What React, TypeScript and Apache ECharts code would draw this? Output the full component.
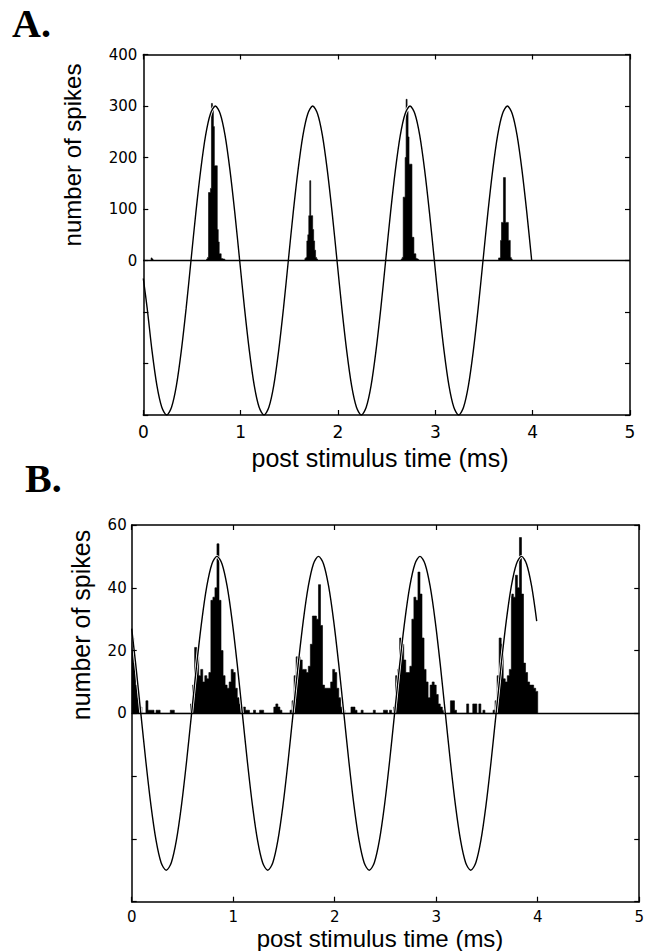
import React, { useEffect, useRef } from "react";
import * as echarts from "echarts";

const W = 647;
const H = 951;

// ---------- Panel A ----------
const aYMin = -300;
const aYMax = 400;
const aYInterval = 100;
const aBinWidth = 0.01;
const aBinCount = 400; // bins from 0 to 4 ms
const aBinStarts = [
  0.08, 0.09,
  0.65, 0.66, 0.67, 0.68, 0.69, 0.7, 0.71, 0.72, 0.73, 0.74, 0.75, 0.76, 0.77, 0.78, 0.79, 0.8, 0.81, 0.82, 0.83,
  1.66, 1.67, 1.68, 1.69, 1.7, 1.71, 1.72, 1.73, 1.74, 1.75, 1.76, 1.77, 1.78,
  2.65, 2.66, 2.67, 2.68, 2.69, 2.7, 2.71, 2.72, 2.73, 2.74, 2.75, 2.76, 2.77, 2.78, 2.79, 2.8, 2.81, 2.82,
  3.65, 3.66, 3.67, 3.68, 3.69, 3.7, 3.71, 3.72, 3.73, 3.74, 3.75, 3.76, 3.77, 3.78,
];
const aCounts = [
  5, 3,
  3, 6, 132, 132, 140, 305, 300, 260, 184, 184, 184, 60, 36, 13, 13, 4, 3, 3, 2,
  4, 6, 38, 50, 87, 155, 87, 87, 60, 38, 20, 6, 3,
  3, 6, 123, 123, 200, 313, 290, 240, 187, 187, 187, 45, 45, 13, 13, 4, 3, 2,
  5, 6, 39, 74, 74, 161, 161, 74, 74, 74, 39, 39, 6, 3,
];

// ---------- Panel B ----------
const bYMin = -60;
const bYMax = 60;
const bYInterval = 20;
const bBinWidth = 0.02;
const bCounts = [
  24, 16, 9, 5, 2, 0, 0, 4, 1, 1,
  1, 0, 1, 1, 0, 0, 0, 0, 0, 1,
  1, 0, 0, 0, 0, 0, 0, 0, 0, 3,
  9, 21, 18, 12, 14, 10, 12, 11, 13, 36,
  37, 40, 54, 36, 20, 12, 9, 8, 10, 14,
  13, 8, 5, 3, 1, 2, 1, 1, 0, 0,
  1, 0, 0, 1, 1, 0, 0, 0, 0, 0,
  2, 3, 2, 1, 0, 0, 0, 0, 1, 4,
  12, 18, 18, 17, 14, 14, 13, 15, 22, 31,
  31, 30, 41, 28, 9, 8, 8, 8, 10, 14,
  13, 8, 5, 2, 1, 0, 0, 0, 2, 2,
  1, 0, 0, 1, 0, 0, 0, 0, 0, 1,
  0, 0, 0, 0, 1, 1, 0, 1, 0, 2,
  12, 14, 24, 22, 17, 13, 13, 15, 30, 37,
  36, 45, 38, 24, 14, 10, 5, 9, 10, 9,
  6, 3, 2, 1, 0, 0, 0, 4, 4, 1,
  0, 0, 0, 0, 0, 3, 0, 0, 3, 3,
  0, 3, 0, 1, 0, 0, 0, 0, 1, 4,
  12, 24, 22, 11, 10, 12, 14, 38, 37, 44,
  40, 56, 38, 16, 13, 10, 9, 9, 8, 7,
];

// ---------- Stimulus waveform ----------
const stimTimes = [
  0,
  0.04, 0.09, 0.14, 0.19, 0.24, 0.29, 0.34, 0.39, 0.44, 0.49, 0.54, 0.59, 0.64, 0.69, 0.74, 0.79, 0.84, 0.89, 0.94, 0.99,
  1.04, 1.09, 1.14, 1.19, 1.24, 1.29, 1.34, 1.39, 1.44, 1.49, 1.54, 1.59, 1.64, 1.69, 1.74, 1.79, 1.84, 1.89, 1.94, 1.99,
  2.04, 2.09, 2.14, 2.19, 2.24, 2.29, 2.34, 2.39, 2.44, 2.49, 2.54, 2.59, 2.64, 2.69, 2.74, 2.79, 2.84, 2.89, 2.94, 2.99,
  3.04, 3.09, 3.14, 3.19, 3.24, 3.29, 3.34, 3.39, 3.44, 3.49, 3.54, 3.59, 3.64, 3.69, 3.74, 3.79, 3.84, 3.89, 3.94, 3.99,
];
const stimA = [
  -35,
  -93, -176, -243, -285, -300, -285, -243, -176, -93, 0, 93, 176, 243, 285, 300, 285, 243, 176, 93, 0,
  -93, -176, -243, -285, -300, -285, -243, -176, -93, 0, 93, 176, 243, 285, 300, 285, 243, 176, 93, 0,
  -93, -176, -243, -285, -300, -285, -243, -176, -93, 0, 93, 176, 243, 285, 300, 285, 243, 176, 93, 0,
  -93, -176, -243, -285, -300, -285, -243, -176, -93, 0, 93, 176, 243, 285, 300, 285, 243, 176, 93, 0,
];
const stimB = [
  27,
  15.5, 0, -15.5, -29.4, -40.5, -47.6, -50, -47.6, -40.5, -29.4, -15.5, 0, 15.5, 29.4, 40.5, 47.6, 50, 47.6, 40.5, 29.4,
  15.5, 0, -15.5, -29.4, -40.5, -47.6, -50, -47.6, -40.5, -29.4, -15.5, 0, 15.5, 29.4, 40.5, 47.6, 50, 47.6, 40.5, 29.4,
  15.5, 0, -15.5, -29.4, -40.5, -47.6, -50, -47.6, -40.5, -29.4, -15.5, 0, 15.5, 29.4, 40.5, 47.6, 50, 47.6, 40.5, 29.4,
  15.5, 0, -15.5, -29.4, -40.5, -47.6, -50, -47.6, -40.5, -29.4, -15.5, 0, 15.5, 29.4, 40.5, 47.6, 50, 47.6, 40.5, 29.4,
];

const xMin = 0;
const xMax = 5;
const xInterval = 1;

const panelLabels = ["A.", "B."];
const yAxisName = "number of spikes";
const xAxisName = "post stimulus time (ms)";

const SANS = "Liberation Sans, Arial, Helvetica, sans-serif";
const TICKFONT = "DejaVu Sans, Liberation Sans, sans-serif";

// step outline of a histogram: one point at each bin start, plus the end of the last bin
function stepData(counts: number[], binW: number) {
  const pts = counts.map((c, i) => [Number((i * binW).toFixed(4)), c]);
  pts.push([Number((counts.length * binW).toFixed(4)), 0]);
  return pts;
}

function denseFromSparse(starts: number[], counts: number[], binW: number, n: number) {
  const dense = new Array(n).fill(0);
  starts.forEach((t, i) => {
    const k = Math.round(t / binW);
    if (k >= 0 && k < n) dense[k] = counts[i];
  });
  return dense;
}

function xAxes(g: number, fontSize: number, margin: number) {
  const base = {
    type: "value",
    gridIndex: g,
    min: xMin,
    max: xMax,
    interval: xInterval,
    z: 10,
    splitLine: { show: false },
    axisLine: { show: true, onZero: false, lineStyle: { color: "#000", width: 1.5 } },
    axisTick: { show: true, inside: true, length: 5, lineStyle: { color: "#000", width: 1.2 } },
  };
  return [
    { ...base, position: "bottom", axisLabel: { color: "#000", fontSize, fontFamily: TICKFONT, margin } },
    { ...base, position: "top", axisLabel: { show: false } },
  ];
}

function yAxes(g: number, min: number, max: number, interval: number, fontSize: number, margin: number) {
  const base = {
    type: "value",
    gridIndex: g,
    min,
    max,
    interval,
    z: 10,
    splitLine: { show: false },
    axisLine: { show: true, onZero: false, lineStyle: { color: "#000", width: 1.5 } },
    axisTick: { show: true, inside: true, length: 5, lineStyle: { color: "#000", width: 1.2 } },
  };
  return [
    {
      ...base,
      position: "left",
      axisLabel: {
        color: "#000",
        fontSize,
        fontFamily: TICKFONT,
        margin,
        formatter: (v: number) => (v >= 0 ? String(v) : ""),
      },
    },
    { ...base, position: "right", axisLabel: { show: false } },
  ];
}

function panelSeries(xi: number, yi: number, histData: number[][], stim: number[]) {
  const stimData = stimTimes.map((t, i) => [t, stim[i]]);
  return [
    {
      type: "line",
      xAxisIndex: xi,
      yAxisIndex: yi,
      data: histData,
      step: "end",
      symbol: "none",
      showSymbol: false,
      lineStyle: { color: "#000", width: 0.6 },
      areaStyle: { color: "#000", opacity: 1, origin: 0 },
      z: 2,
      silent: true,
    },
    {
      type: "line",
      xAxisIndex: xi,
      yAxisIndex: yi,
      data: stimData,
      symbol: "none",
      showSymbol: false,
      smooth: 0.3,
      lineStyle: { color: "#fff", width: 3 },
      z: 3,
      silent: true,
    },
    {
      type: "line",
      xAxisIndex: xi,
      yAxisIndex: yi,
      data: stimData,
      symbol: "none",
      showSymbol: false,
      smooth: 0.3,
      lineStyle: { color: "#000", width: 1.4 },
      z: 4,
      silent: true,
      markLine: {
        silent: true,
        symbol: "none",
        label: { show: false },
        lineStyle: { color: "#000", width: 1.4, type: "solid" },
        data: [{ yAxis: 0 }],
      },
    },
  ];
}

export default function App() {
  const ref = useRef<HTMLDivElement>(null);
  useEffect(() => {
    if (!ref.current) return;
    const chart = echarts.init(ref.current, null, { renderer: "svg", width: W, height: H });

    const aDense = denseFromSparse(aBinStarts, aCounts, aBinWidth, aBinCount);
    const aData = stepData(aDense, aBinWidth);
    const bData = stepData(bCounts, bBinWidth);

    const option: any = {
      animation: false,
      backgroundColor: "#fff",
      grid: [
        { left: 143.3, top: 54.5, width: 486.7, height: 360.5 },
        { left: 131.7, top: 525, width: 508.3, height: 376.7 },
      ],
      xAxis: [...xAxes(0, 17, 8), ...xAxes(1, 15, 8)],
      yAxis: [
        ...yAxes(0, aYMin, aYMax, aYInterval, 15, 6),
        ...yAxes(1, bYMin, bYMax, bYInterval, 15, 5),
      ],
      series: [
        ...panelSeries(0, 0, aData, stimA),
        ...panelSeries(2, 2, bData, stimB),
      ],
      graphic: [
        {
          type: "text",
          x: 12,
          y: 23.5,
          style: {
            text: panelLabels[0],
            font: "bold 40px 'Liberation Serif', 'Times New Roman', serif",
            fill: "#000",
            textAlign: "left",
            textVerticalAlign: "middle",
          },
        },
        {
          type: "text",
          x: 25,
          y: 478.5,
          style: {
            text: panelLabels[1],
            font: "bold 40px 'Liberation Serif', 'Times New Roman', serif",
            fill: "#000",
            textAlign: "left",
            textVerticalAlign: "middle",
          },
        },
        {
          type: "text",
          x: 72,
          y: 155,
          rotation: Math.PI / 2,
          style: {
            text: yAxisName,
            font: `24px ${SANS}`,
            fill: "#000",
            textAlign: "center",
            textVerticalAlign: "middle",
          },
        },
        {
          type: "text",
          x: 81,
          y: 625,
          rotation: Math.PI / 2,
          style: {
            text: yAxisName,
            font: `25px ${SANS}`,
            fill: "#000",
            textAlign: "center",
            textVerticalAlign: "middle",
          },
        },
        {
          type: "text",
          x: 380,
          y: 458,
          style: {
            text: xAxisName,
            font: `25px ${SANS}`,
            fill: "#000",
            textAlign: "center",
            textVerticalAlign: "middle",
          },
        },
        {
          type: "text",
          x: 380,
          y: 938,
          style: {
            text: xAxisName,
            font: `24px ${SANS}`,
            fill: "#000",
            textAlign: "center",
            textVerticalAlign: "middle",
          },
        },
      ],
    };
    chart.setOption(option);
    return () => chart.dispose();
  }, []);

  return (
    <div
      ref={ref}
      style={{ position: "fixed", left: 0, top: 0, width: W, height: H, background: "#fff" }}
    />
  );
}
